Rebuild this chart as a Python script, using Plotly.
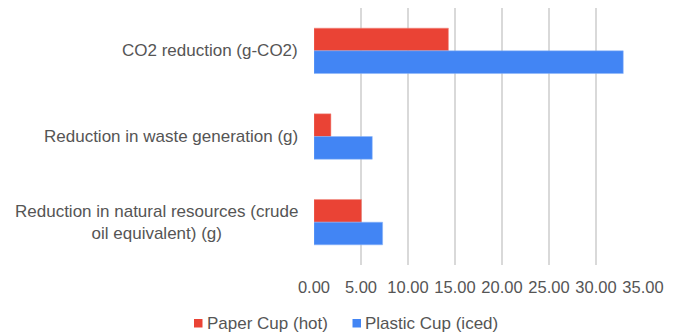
import plotly.graph_objects as go

categories = ["CO2 reduction (g-CO2)", "Reduction in waste generation (g)",
              "Reduction in natural resources (crude<br>oil equivalent) (g)"]
series_names = ["Paper Cup (hot)", "Plastic Cup (iced)"]
paper_cup = [14.3, 1.8, 5.05]
plastic_cup = [32.9, 6.2, 7.3]
tick_vals = [0, 5, 10, 15, 20, 25, 30, 35]
tick_text = ["0.00", "5.00", "10.00", "15.00", "20.00", "25.00", "30.00", "35.00"]

RED = "#ea4335"
BLUE = "#4285f4"
TXT = "#555555"
FONT = "Liberation Sans, Arial, sans-serif"

# page has an 8px body margin; size the figure so it fits the 678x334 window
OFF = 8
W, H = 678 - OFF, 334 - OFF
L, R, T, B = 314 - OFF, 35, 0, 69
pw, ph = W - L - R, H - T - B

def px_x(p):
    return (p - OFF - L) / pw

def px_y(p):
    return (H - B - (p - OFF)) / ph

fig = go.Figure()
fig.add_trace(go.Bar(y=categories, x=paper_cup, orientation="h", name=series_names[0],
                     marker=dict(color=RED, line=dict(color="#f08a80", width=0.5))))
fig.add_trace(go.Bar(y=categories, x=plastic_cup, orientation="h", name=series_names[1],
                     marker=dict(color=BLUE, line=dict(color="#8ab4f8", width=0.5))))

annotations = []
for c in categories:
    annotations.append(dict(text=c, x=0, xref="paper", y=c, yref="y", xanchor="right",
                            xshift=-14, align="center", showarrow=False,
                            font=dict(family=FONT, size=17, color=TXT)))

# legend drawn manually
legend_items = [(series_names[0], RED, 194, 207), (series_names[1], BLUE, 352.5, 365)]
shapes = []
for name, col, sx, tx in legend_items:
    shapes.append(dict(type="rect", xref="paper", yref="paper",
                       x0=px_x(sx), x1=px_x(sx + 8.5), y0=px_y(327.5), y1=px_y(319),
                       fillcolor=col, line=dict(width=0)))
    annotations.append(dict(text=name, x=px_x(tx - 2), xref="paper", y=px_y(323), yref="paper",
                            xanchor="left", yanchor="middle", showarrow=False,
                            font=dict(family=FONT, size=17, color=TXT)))

fig.update_layout(
    width=W, height=H,
    margin=dict(l=L, r=R, t=T, b=B, pad=0, autoexpand=False),
    barmode="group", bargap=0.47, bargroupgap=0,
    paper_bgcolor="white", plot_bgcolor="white",
    font=dict(family=FONT, size=17, color=TXT),
    xaxis=dict(range=[0, 35], tickvals=tick_vals, ticktext=tick_text,
               showgrid=True, gridcolor="#d9d9d9", gridwidth=1.5, zeroline=False,
               showline=False, ticks="", ticklabelstandoff=10, automargin=False,
               tickfont=dict(family=FONT, size=16.5, color=TXT)),
    yaxis=dict(autorange="reversed", showgrid=False, showline=False, ticks="",
               showticklabels=False, automargin=False),
    showlegend=False,
    annotations=annotations,
    shapes=shapes,
)
fig.write_html("out.html")
